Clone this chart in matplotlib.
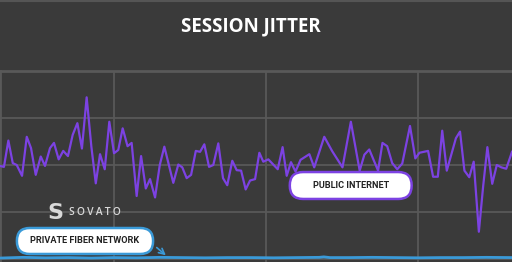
import matplotlib.pyplot as plt
from matplotlib.patches import FancyBboxPatch

# public internet jitter (ms), time in seconds
internet_time = [2.50, 2.76, 3.05, 3.34, 3.60, 3.95, 4.26, 4.54, 4.85, 5.18,
                 5.46, 5.79, 6.05, 6.36, 6.66, 6.97, 7.28, 7.59, 7.89, 8.20,
                 8.51, 8.80, 9.08, 9.39, 9.69, 10.00, 10.28, 10.57, 10.89, 11.16,
                 11.49, 11.78, 12.09, 12.37, 12.70, 13.01, 13.31, 13.90, 14.23, 14.49,
                 14.78, 15.07, 15.38, 15.66, 15.94, 16.25, 16.53, 16.86, 17.17, 17.45,
                 17.78, 18.07, 18.36, 18.66, 18.95, 19.28, 19.56, 19.82, 20.15, 20.77,
                 21.09, 21.36, 21.64, 21.94, 22.27, 22.85, 23.17, 23.83, 24.36, 25.03,
                 25.58, 26.16, 26.47, 26.79, 27.37, 27.66, 27.97, 28.30, 28.63, 28.96,
                 29.47, 29.82, 30.09, 30.66, 30.99, 31.30, 31.59, 31.89, 32.49, 32.76,
                 33.05, 33.37, 33.66, 34.00, 34.28, 34.56, 34.88, 35.18, 35.48, 35.80,
                 36.18]
internet_jitter = [19.8, 19.6, 25.2, 20.4, 20.0, 17.7, 26.0, 23.6, 17.9, 21.8,
                   19.8, 23.6, 24.7, 21.2, 23.0, 21.9, 26.4, 28.9, 23.5, 34.4,
                   23.9, 16.1, 22.3, 19.1, 29.2, 22.5, 23.2, 27.8, 24.0, 24.7,
                   13.4, 21.9, 15.0, 17.0, 13.1, 20.0, 23.9, 16.2, 20.1, 19.5,
                   17.2, 17.9, 23.0, 22.8, 24.4, 19.6, 20.0, 24.6, 17.2, 15.7,
                   20.9, 18.9, 18.8, 14.8, 16.7, 17.0, 22.6, 20.7, 21.2, 19.1,
                   23.8, 17.7, 20.6, 18.6, 21.1, 22.3, 19.5, 26.0, 22.9, 19.5,
                   29.2, 18.8, 22.2, 23.3, 18.8, 24.7, 24.0, 20.4, 19.1, 20.3,
                   28.3, 21.4, 22.6, 23.0, 17.5, 17.5, 27.3, 18.8, 25.7, 27.1,
                   18.8, 17.4, 20.7, 5.8, 15.4, 23.8, 16.0, 20.0, 19.5, 19.2,
                   22.8]

# private fiber jitter (ms)
fiber_time = [2.5, 4.0, 5.5, 7.0, 8.5, 10.0, 11.5, 13.0, 14.5, 16.0, 17.5,
              19.0, 20.5, 22.0, 23.5, 23.8, 24.2, 25.5, 27.0, 28.5, 30.0,
              31.5, 33.0, 34.5, 36.18]
fiber_jitter = [0.2, 0.35, 0.25, 0.3, 0.2, 0.3, 0.25, 0.35, 0.3, 0.25, 0.3,
                0.3, 0.25, 0.3, 0.35, 0.45, 0.3, 0.3, 0.35, 0.3, 0.25,
                0.3, 0.3, 0.35, 0.3]

bg = '#3a3a3a'
grid_c = '#595959'
purple = '#7c42e2'
blue = '#3a9ad8'

fig = plt.figure(figsize=(5.12, 2.62), dpi=100, facecolor=bg)
ax = fig.add_axes([0, 0, 1, 191 / 262])
ax.set_facecolor(bg)

ax.plot(internet_time, internet_jitter, color=purple, lw=1.6, zorder=3)
ax.plot(fiber_time, fiber_jitter, color=blue, lw=2.0, zorder=3)

ax.set_xlim(2.5, 36.18)
ax.set_ylim(-0.64, 40)
ax.set_xticks([10, 20, 30])
ax.set_yticks([0, 10, 20, 30])
ax.grid(True, color=grid_c, lw=1.3)
ax.tick_params(length=0, labelbottom=False, labelleft=False)
for side in ['left', 'top']:
    ax.spines[side].set_color(grid_c)
    ax.spines[side].set_linewidth(2)
for side in ['right', 'bottom']:
    ax.spines[side].set_visible(False)

# label pills
ratio = 512 / 191
pill1 = FancyBboxPatch((0.033, 0.042), 0.266, 0.136, transform=ax.transAxes,
                       boxstyle='round,pad=0,rounding_size=0.025', mutation_aspect=ratio,
                       fc='white', ec=blue, lw=1.8, zorder=5)
ax.add_patch(pill1)
ax.text(0.033 + 0.133, 0.042 + 0.068, 'PRIVATE FIBER NETWORK', transform=ax.transAxes,
        ha='center', va='center', fontsize=6.6, fontweight='bold', color='#222222',
        family='Roboto', zorder=6)

pill2 = FancyBboxPatch((0.566, 0.330), 0.238, 0.141, transform=ax.transAxes,
                       boxstyle='round,pad=0,rounding_size=0.026', mutation_aspect=ratio,
                       fc='white', ec=purple, lw=1.8, zorder=5)
ax.add_patch(pill2)
ax.text(0.566 + 0.119, 0.330 + 0.070, 'PUBLIC INTERNET', transform=ax.transAxes,
        ha='center', va='center', fontsize=6.6, fontweight='bold', color='#222222',
        family='Roboto', zorder=6)

ax.annotate('', xy=(13.55, 0.4), xycoords='data', xytext=(0.302, 0.085),
            textcoords='axes fraction',
            arrowprops=dict(arrowstyle='->', color=blue, lw=1.2), zorder=6)

# logo
ax.text(0.108, 0.257, 'S', transform=ax.transAxes, ha='center', va='center',
        fontsize=16, fontweight='bold', color='#d8d8d8', zorder=4)
ax.text(0.135, 0.257, '\u2009'.join('SOVATO'), transform=ax.transAxes, ha='left',
        va='center', fontsize=7.5, fontweight='semibold', color='#d8d8d8',
        family='Open Sans', zorder=4)

fig.text(0.49, 0.90, 'SESSION JITTER', ha='center', va='center', fontsize=13.5,
         fontweight='bold', color='white', family='Open Sans')
fig.add_artist(plt.Line2D([0, 1], [0.997, 0.997], color='#555555', lw=1.5))

fig.savefig('out.png', dpi=100, facecolor=bg)
